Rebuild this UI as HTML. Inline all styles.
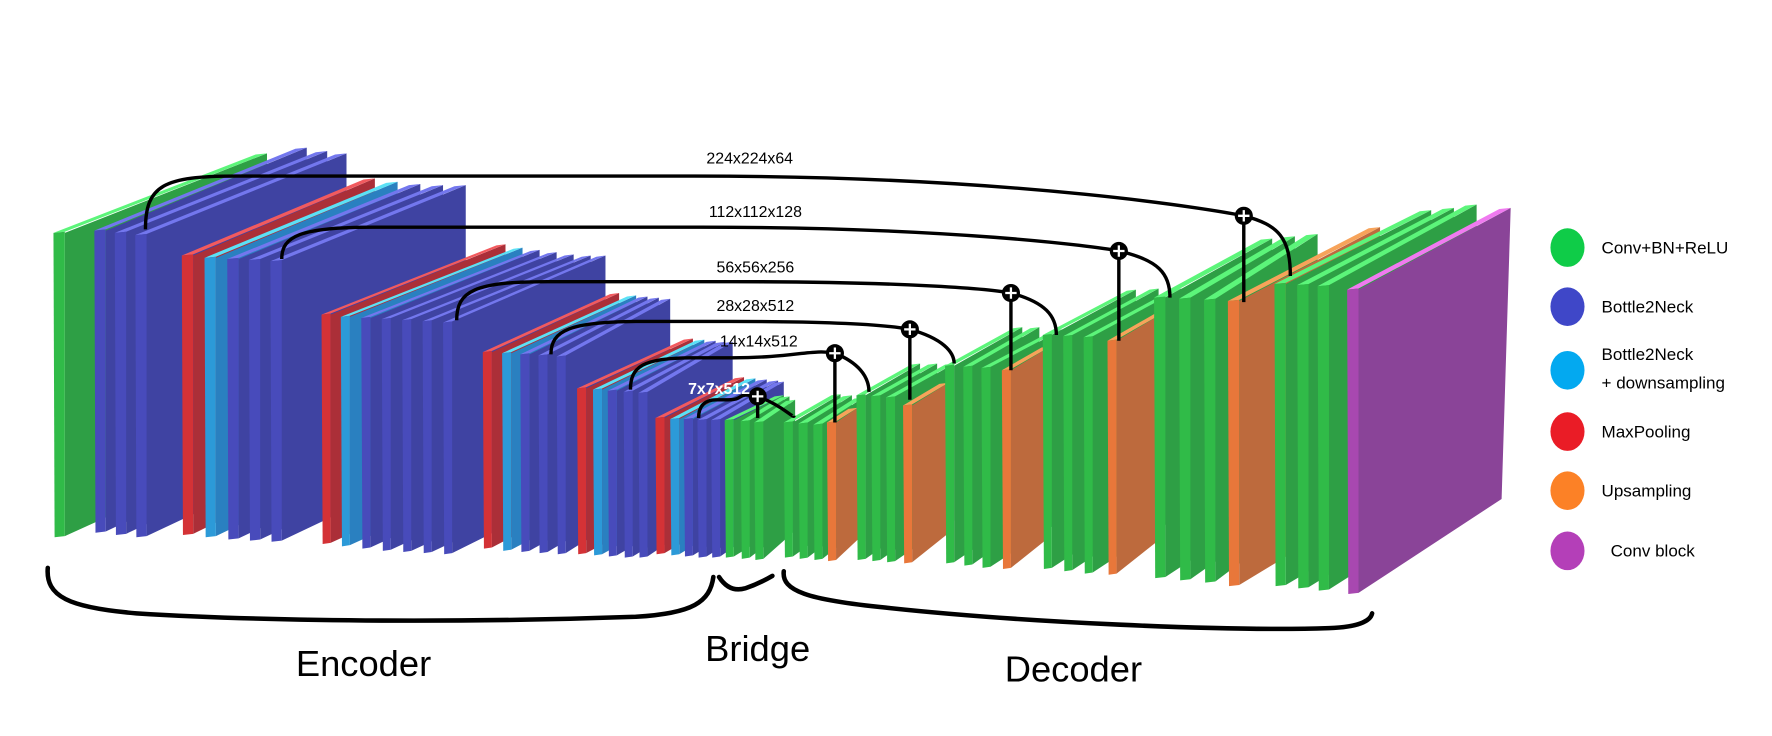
<!DOCTYPE html>
<html><head><meta charset="utf-8"><style>
html,body{margin:0;padding:0;background:#fff;}
svg{display:block;}
text{font-family:"Liberation Sans","DejaVu Sans",sans-serif;}
</style></head><body>
<svg id="chart" width="1772" height="736" viewBox="0 0 1560 648" xmlns="http://www.w3.org/2000/svg">
<g id="slabs"></g>
<g id="skips" fill="none" stroke="#000" stroke-width="3"></g>
<g id="labels"></g>
<g fill="none" stroke="#000" stroke-width="4" stroke-linecap="round">
<path d="M42,500 C40,525 60,535 120,540 C250,548 420,548 560,543 C610,540 625,530 628,508"/>
<path d="M633,508 Q642,522 656,518 Q668,514 680,507"/>
<path d="M690,503 C688,520 710,528 780,535 C900,548 1080,556 1170,553 C1200,552 1207,545 1208,540"/>
</g>
<text x="320" y="595" font-size="32" text-anchor="middle">Encoder</text>
<text x="667" y="582" font-size="32" text-anchor="middle">Bridge</text>
<text x="945" y="600" font-size="32" text-anchor="middle">Decoder</text>
<g id="legend"></g>
</svg>
<script>
const NS="http://www.w3.org/2000/svg";
const COLORS={
 g:{f:"#30bb48",s:"#2e9f45",t:"#5cf57a"},
 b:{f:"#484bbb",s:"#3f43a2",t:"#7377ee"},
 r:{f:"#d43236",s:"#ab2f38",t:"#f25a5e"},
 c:{f:"#2c9ad8",s:"#2a80c0",t:"#5be1f6"},
 o:{f:"#e8773a",s:"#bd6a3d",t:"#f7a35a"},
 p:{f:"#a848b0",s:"#8a4498",t:"#f07af0"}
};
const slabTypes=["g","b","b","b", "r","c","b","b","b", "r","c","b","b","b","b","b", "r","c","b","b","b", "r","c","b","b","b", "r","c","b","b","b", "g","g","g", "g","g","g","o", "g","g","g","o", "g","g","g","o", "g","g","g","o", "g","g","g","o", "g","g","g","p"];
const slabX=[47,83,101,119, 160,180,200,219,238, 283,300,318,336,354,372,390, 425,442,458,474,490, 508,522,535,549,562, 577,590,602,614,626, 638,652,664, 690,703,716,728, 754,767,780,795, 832,848,864,882, 918,936,954,975, 1016,1038,1060,1081, 1122,1142,1160,1186];
const slabTop=[205,203,205,207, 225,227,228,229,230, 277,279,280,281,282,283,284, 310,311,312,313,314, 342,343,344,345,346, 368,369,369,370,370, 370,371,372, 372,373,374,372, 348,349,350,357, 322,323,324,326, 295,296,297,300, 262,263,264,265, 250,251,252,255];
const slabBottom=[472,468,470,472, 470,472,474,475,476, 478,480,482,484,485,486,487, 482,484,485,486,487, 487,488,489,490,490, 487,488,489,490,490, 490,491,492, 490,491,492,493, 492,493,494,495, 495,497,499,500, 500,502,504,505, 508,510,512,515, 515,517,519,522];
const slabBackX=[235,270,288,305, 330,350,370,390,410, 445,460,475,490,505,520,533, 545,560,570,580,590, 610,620,630,638,645, 655,665,675,685,690, 690,695,700, 740,750,760,755, 810,825,840,835, 900,915,935,925, 1000,1020,1040,1025, 1120,1140,1160,1215, 1260,1280,1300,1330];
const slabBackTop=[135,130,133,135, 157,160,162,163,163, 215,218,220,222,224,225,225, 258,260,261,262,263, 298,299,300,301,301, 332,333,334,335,336, 348,349,352, 347,348,350,359, 320,320,320,337, 288,288,290,305, 255,254,254,275, 210,208,206,200, 185,183,180,183];
const slabs=document.getElementById('slabs');
function poly(pts,fill,name){
 const p=document.createElementNS(NS,'polygon');
 p.setAttribute('points',pts.map(a=>a.join(',')).join(' '));
 p.setAttribute('fill',fill);
 
 
 return p;
}
slabTypes.forEach((ty,i)=>{
 const c=COLORS[ty];
 const x=slabX[i],y0=slabTop[i],y1=slabBottom[i],bx=slabBackX[i],by=slabBackTop[i];
 const t=(y1-y0)>230?10:8;
 const h=y1-y0;
 const by1=by+h*0.96;
 const bxb=ty==='p'?bx-8:bx;
 const g=document.createElementNS(NS,'g');
 
 
 g.appendChild(poly([[x+t,y0],[bx,by],[bxb,by1],[x+t,y1]],c.s,'slab-side'));
 g.appendChild(poly([[x,y0],[x+t,y0-1],[bx,by],[bx-t,by+1]],c.t,'slab-top'));
 g.appendChild(poly([[x,y0],[x+t,y0-1],[x+t,y1],[x+1,y1+1]],c.f,'slab-front'));
 slabs.appendChild(g);
});
const skipNames=["224x224x64","112x112x128","56x56x256","28x28x512","14x14x512","7x7x512"];
const skipSX=[128,248,402,485,555,615];
const skipSY=[202,228,282,312,343,368];
const skipArc=[155,200,248,283,315,352];
const skipCX=[1095,985,890,801,735,667];
const skipCY=[190,221,258,290,311,349];
const skipEX=[1136,1030,930,840,765,699];
const skipEY=[243,262,295,320,345,366];
const skipVY=[266,300,326,352,372,368];
const skipLX=[660,665,665,665,668,633];
const skipLY=[144,191,240,274,305,347];
const sk=document.getElementById('skips'), lb=document.getElementById('labels');
skipNames.forEach((n,i)=>{
 const sx=skipSX[i],sy=skipSY[i],ay=skipArc[i],cx=skipCX[i],cy=skipCY[i],ex=skipEX[i],ey=skipEY[i];
 const p=document.createElementNS(NS,'path');
 const r=Math.min(40,(cx-sx)*0.15);
 p.setAttribute('d',`M${sx},${sy} C${sx},${ay+8} ${sx+r*0.4},${ay} ${sx+r*2},${ay} L${(sx+cx)/2},${ay} C${cx-(cx-sx)*0.2},${ay} ${cx-20},${cy-4} ${cx},${cy} C${ex-10},${cy+8} ${ex},${cy+20} ${ex},${ey}`);
 
 
 sk.appendChild(p);
 const v=document.createElementNS(NS,'line');
 v.setAttribute('x1',cx);v.setAttribute('y1',cy);v.setAttribute('x2',cx);v.setAttribute('y2',skipVY[i]);
 
 
 sk.appendChild(v);
 const c=document.createElementNS(NS,'circle');
 c.setAttribute('cx',cx);c.setAttribute('cy',cy);c.setAttribute('r',8);c.setAttribute('fill','#000');c.setAttribute('stroke','none');
 
 
 sk.appendChild(c);
 const pl=document.createElementNS(NS,'path');
 pl.setAttribute('d',`M${cx-5},${cy} H${cx+5} M${cx},${cy-5} V${cy+5}`);
 pl.setAttribute('stroke','#fff');pl.setAttribute('stroke-width','2');
 
 
 sk.appendChild(pl);
 const t=document.createElementNS(NS,'text');
 t.setAttribute('x',skipLX[i]);t.setAttribute('y',skipLY[i]);t.setAttribute('text-anchor','middle');
 t.setAttribute('font-size',14);
 if(i==5){t.setAttribute('fill','#fff');t.setAttribute('font-weight','bold');}
 t.textContent=n;
 
 
 lb.appendChild(t);
});
const legLabels=["Conv+BN+ReLU","Bottle2Neck","Bottle2Neck","MaxPooling","Upsampling","Conv block"];
const legColors=["#0fcc48","#3f47c8","#03a9f0","#ea1c26","#fc8126","#b43fb8"];
const legY=[218,270,326,380,432,485];
const lg=document.getElementById('legend');
legLabels.forEach((l,i)=>{
 const c=document.createElementNS(NS,'ellipse');
 c.setAttribute('cx',1380);c.setAttribute('cy',legY[i]);c.setAttribute('rx',15);c.setAttribute('ry',17);c.setAttribute('fill',legColors[i]);
 
 
 lg.appendChild(c);
 const t=document.createElementNS(NS,'text');
 t.setAttribute('x',i==5?1418:1410);t.setAttribute('y',i==2?legY[i]-9:legY[i]+5);t.setAttribute('font-size',15);
 t.textContent=l;
 
 
 lg.appendChild(t);
});
const t2=document.createElementNS(NS,'text');
t2.setAttribute('x',1410);t2.setAttribute('y',342);t2.setAttribute('font-size',15);
t2.textContent="+ downsampling";


lg.appendChild(t2);
</script>
</body></html>
